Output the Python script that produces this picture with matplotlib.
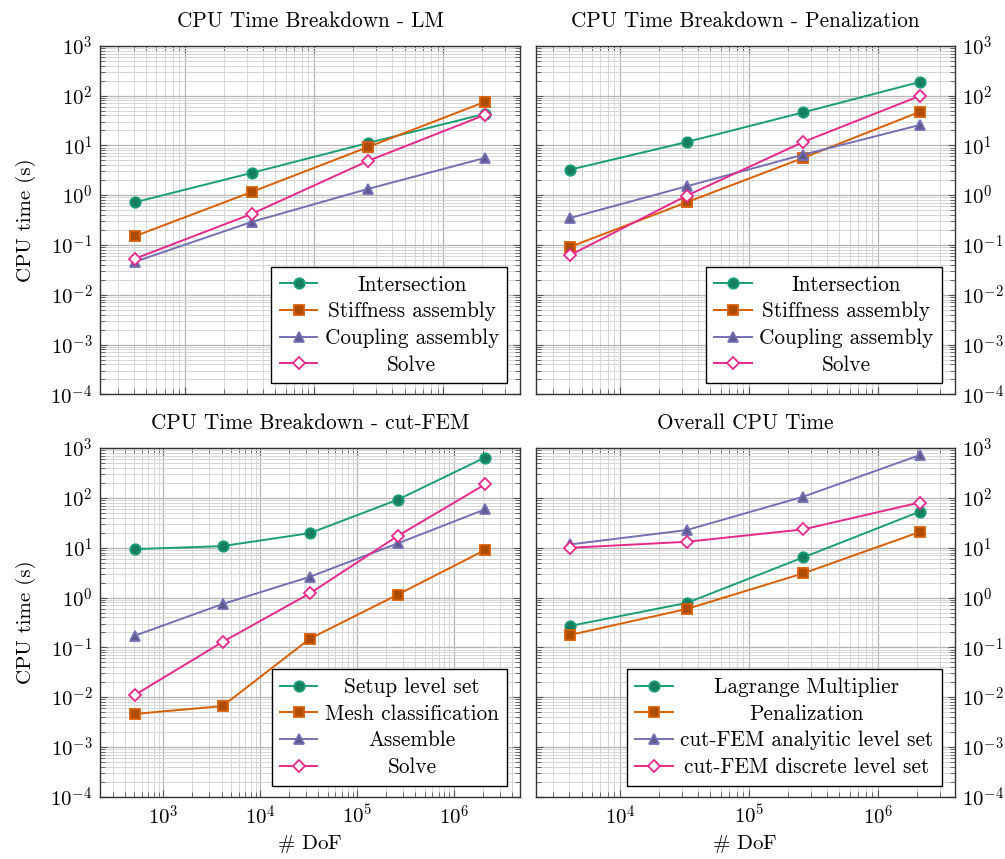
import numpy as np
import matplotlib
matplotlib.use("Agg")
import matplotlib.pyplot as plt
import matplotlib.colors as mcolors
from matplotlib.ticker import LogLocator, FuncFormatter, NullFormatter

plt.rcParams["font.family"] = "serif"
plt.rcParams["font.serif"] = ["cmr10"]
plt.rcParams["mathtext.fontset"] = "cm"
plt.rcParams["axes.formatter.use_mathtext"] = True
plt.rcParams["font.size"] = 15

# Degrees of freedom
dof_4 = [4096, 32768, 262144, 2097152]
dof_5 = [512, 4096, 32768, 262144, 2097152]

# Lagrange multiplier breakdown
lm_intersection = [0.72, 2.8, 11.2, 43]
lm_stiffness = [0.15, 1.16, 9.3, 75]
lm_coupling = [0.046, 0.29, 1.34, 5.6]
lm_solve = [0.053, 0.42, 4.9, 41]

# Penalization breakdown
pen_intersection = [3.26, 11.7, 46, 187]
pen_stiffness = [0.092, 0.72, 5.6, 47]
pen_coupling = [0.35, 1.51, 6.5, 25.6]
pen_solve = [0.063, 0.98, 11.7, 98]

# cut-FEM breakdown
cut_setup = [9.4, 10.8, 19.7, 92, 650]
cut_mesh = [0.0046, 0.0066, 0.15, 1.14, 9.0]
cut_assemble = [0.172, 0.74, 2.62, 12.2, 59]
cut_solve = [0.0111, 0.128, 1.22, 17.2, 187]

# overall
tot_lm = [0.27, 0.78, 6.4, 53]
tot_pen = [0.178, 0.59, 3.06, 20.7]
tot_cut_analytic = [11.7, 22.7, 106, 724]
tot_cut_discrete = [10.0, 13.2, 23.4, 81]

COLORS = ["#1b9e77", "#d95f02", "#7570b3", "#e7298a"]
MARKERS = ["o", "s", "^", "D"]
MSIZES = [7.5, 7.5, 7, 5.8]

W, H = 1005, 859


def style(i):
    c = COLORS[i]
    dark = tuple(np.array(mcolors.to_rgb(c)) * 0.8)
    face = "white" if i == 3 else dark
    return dict(color=c, marker=MARKERS[i], markersize=MSIZES[i],
                markerfacecolor=face, markeredgecolor=c,
                markeredgewidth=1.3, linewidth=1.4)


def enlarged(x):
    lo, hi = np.log10(min(x)), np.log10(max(x))
    d = 0.1 * (hi - lo)
    return 10 ** (lo - d), 10 ** (hi + d)


def setup_axes(ax, x, right=False, bottom=False):
    ax.set_xscale("log")
    ax.set_yscale("log")
    ax.set_xlim(*enlarged(x))
    ax.set_ylim(1e-4, 1e3)
    for axis in (ax.xaxis, ax.yaxis):
        axis.set_major_locator(LogLocator(base=10, numticks=20))
        axis.set_minor_locator(LogLocator(base=10, subs=range(2, 10), numticks=20))
        axis.set_minor_formatter(NullFormatter())
        axis.set_major_formatter(FuncFormatter(
            lambda v, p: r"$10^{%d}$" % int(round(np.log10(v)))))
    ax.grid(True, which="minor", color="#d6d6d6", linewidth=0.7)
    ax.grid(True, which="major", color="#b5b5b5", linewidth=0.9)
    ax.set_axisbelow(True)
    ax.tick_params(which="both", direction="in", top=True, right=True,
                   left=True, bottom=True, color="#555555")
    ax.tick_params(which="major", length=5.3, width=0.8, pad=5.5)
    ax.tick_params(which="minor", length=3.6, width=0.6)
    if right:
        ax.tick_params(which="both", labelleft=False, labelright=True)
    else:
        ax.set_ylabel("CPU time (s)", labelpad=10)
    if bottom:
        ax.set_xlabel(r"$\#$ DoF", labelpad=3)
    else:
        ax.tick_params(which="both", labelbottom=False)
    for s in ax.spines.values():
        s.set_linewidth(1.0)
        s.set_color("#333333")


def add_legend(ax):
    leg = ax.legend(loc="lower right", bbox_to_anchor=(1 - 12.7 / 420, 11 / 349),
                    borderaxespad=0, fancybox=False, framealpha=1,
                    edgecolor="black", handlelength=1.75, handletextpad=0.35,
                    labelspacing=0.34, borderpad=0.4, fontsize=15.3)
    leg.get_frame().set_linewidth(1.0)
    return leg


fig = plt.figure(figsize=(W / 100, H / 100), dpi=100)
top_b = 1 - 394.3 / H
bot_b = 1 - 796.7 / H
hgt = 348.5 / H
ax_tl = fig.add_axes([100 / W, top_b, 420 / W, hgt])
ax_tr = fig.add_axes([535.5 / W, top_b, 419 / W, hgt])
ax_bl = fig.add_axes([100 / W, bot_b, 420 / W, hgt])
ax_br = fig.add_axes([535.5 / W, bot_b, 419 / W, hgt])

panels = [
    (ax_tl, dof_4, [lm_intersection, lm_stiffness, lm_coupling, lm_solve],
     ["Intersection", "Stiffness assembly", "Coupling assembly", "Solve"],
     "CPU Time Breakdown - LM", False, False),
    (ax_tr, dof_4, [pen_intersection, pen_stiffness, pen_coupling, pen_solve],
     ["Intersection", "Stiffness assembly", "Coupling assembly", "Solve"],
     "CPU Time Breakdown - Penalization", True, False),
    (ax_bl, dof_5, [cut_setup, cut_mesh, cut_assemble, cut_solve],
     ["Setup level set", "Mesh classification", "Assemble", "Solve"],
     "CPU Time Breakdown - cut-FEM", False, True),
    (ax_br, dof_4, [tot_lm, tot_pen, tot_cut_analytic, tot_cut_discrete],
     ["Lagrange Multiplier", "Penalization", "cut-FEM analyitic level set",
      "cut-FEM discrete level set"],
     "Overall CPU Time", True, True),
]

legends = []
for ax, x, series, labels, title, right, bottom in panels:
    for i, (y, lab) in enumerate(zip(series, labels)):
        ax.plot(x, y, label=lab, **style(i))
    setup_axes(ax, x, right=right, bottom=bottom)
    ax.set_title(title, pad=13.8, fontsize=15.3)
    legends.append(add_legend(ax))

# center legend labels like pgfplots
fig.canvas.draw()
renderer = fig.canvas.get_renderer()
for leg in legends:
    texts = leg.get_texts()
    widths = [t.get_window_extent(renderer).width for t in texts]
    mw = max(widths)
    for t, w in zip(texts, widths):
        t.set_x((mw - w) / 2)

fig.savefig("out.png", dpi=100)
